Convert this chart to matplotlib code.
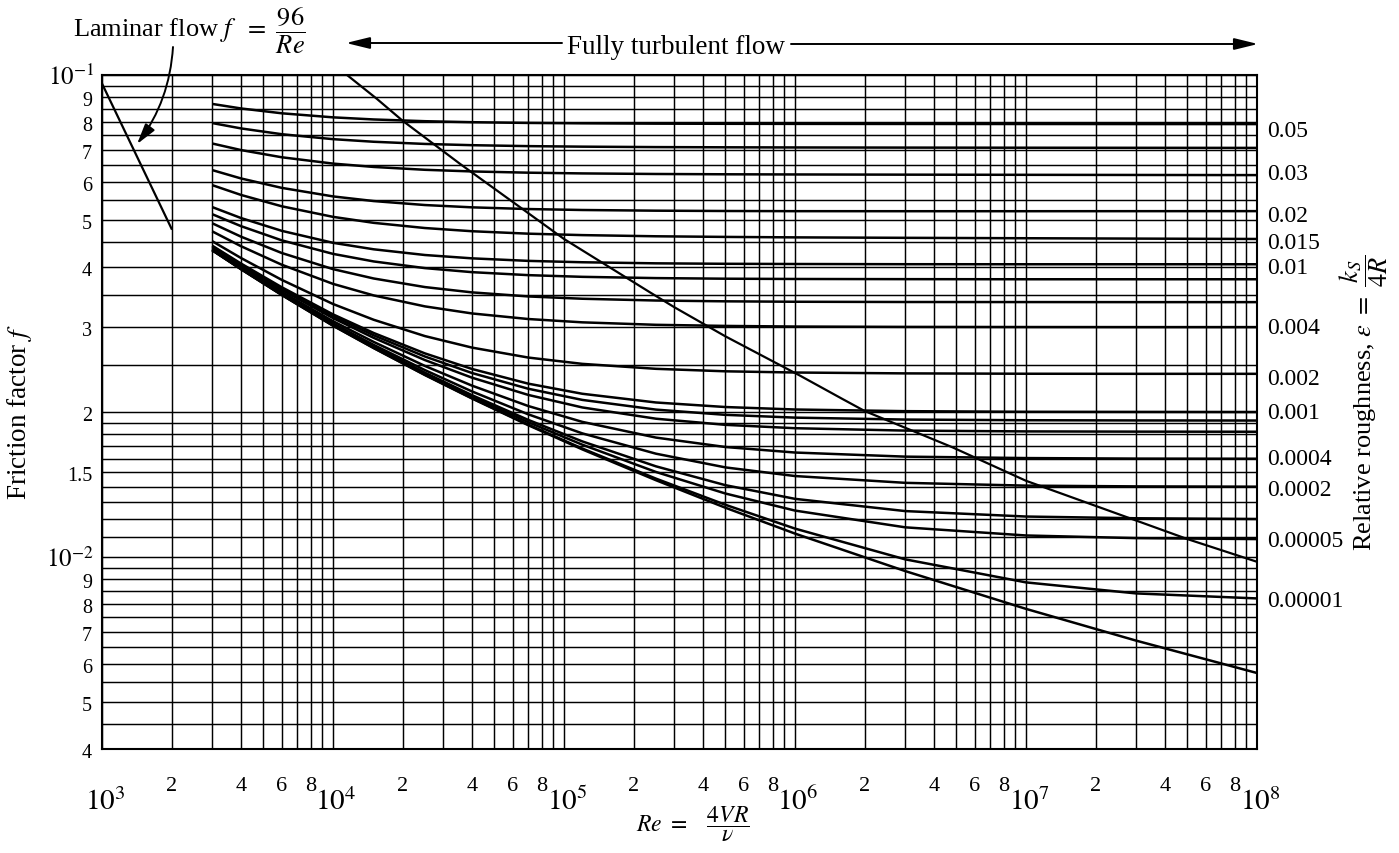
import matplotlib
matplotlib.use('Agg')
import matplotlib.pyplot as plt
import matplotlib.patches as mpatches
from matplotlib.ticker import FixedLocator, NullLocator

plt.rcParams['font.family'] = ['Liberation Serif', 'DejaVu Serif']
plt.rcParams['mathtext.fontset'] = 'stix'

W, H = 1399, 854

# ---------------- data ----------------
re_pts = [3e3, 4e3, 6e3, 1e4, 1.5e4, 2.5e4, 4e4, 7e4, 1.2e5, 2.5e5, 5e5, 1e6, 3e6, 1e7, 3e7, 1e8]

f_0_05 = [0.0871, 0.08523, 0.08329, 0.08169, 0.08087, 0.0802, 0.07982, 0.07954, 0.07939, 0.07927, 0.07921, 0.07918, 0.07915, 0.07913, 0.07911, 0.0791]
f_0_04 = [0.0795, 0.07748, 0.07537, 0.07361, 0.0727, 0.07195, 0.07152, 0.0712, 0.07102, 0.07087, 0.0708, 0.07075, 0.0707, 0.07066, 0.07063, 0.0706]
f_0_03 = [0.0721, 0.06987, 0.06751, 0.0655, 0.06446, 0.06359, 0.06309, 0.06272, 0.0625, 0.06233, 0.06224, 0.06219, 0.06213, 0.06208, 0.06204, 0.062]
f_0_02 = [0.0635, 0.06101, 0.05833, 0.056, 0.05477, 0.05374, 0.05315, 0.05272, 0.05248, 0.05231, 0.05223, 0.05219, 0.05218, 0.05218, 0.05219, 0.0522]
f_0_015 = [0.0591, 0.05639, 0.05342, 0.05079, 0.04936, 0.04815, 0.04742, 0.04687, 0.04655, 0.04629, 0.04615, 0.04605, 0.04595, 0.04586, 0.04578, 0.0457]
f_0_01 = [0.05322, 0.0505, 0.04751, 0.04487, 0.0435, 0.04233, 0.04166, 0.04116, 0.04089, 0.04068, 0.04059, 0.04055, 0.04051, 0.0405, 0.0405, 0.0405]
f_0_008 = [0.05144, 0.04858, 0.0454, 0.04256, 0.04105, 0.03976, 0.039, 0.03845, 0.03814, 0.03791, 0.0378, 0.03775, 0.03772, 0.0377, 0.0377, 0.0377]
f_0_006 = [0.04926, 0.0462, 0.04274, 0.03957, 0.03784, 0.03632, 0.03541, 0.03473, 0.03435, 0.03406, 0.03393, 0.03386, 0.03382, 0.03381, 0.0338, 0.0338]
f_0_004 = [0.04739, 0.04414, 0.04041, 0.03688, 0.0349, 0.03312, 0.03202, 0.03118, 0.03069, 0.03033, 0.03017, 0.03008, 0.03003, 0.03001, 0.03, 0.03]
f_0_002 = [0.04522, 0.04172, 0.03759, 0.0335, 0.03107, 0.02874, 0.0272, 0.02594, 0.02517, 0.02458, 0.02429, 0.02415, 0.02405, 0.02401, 0.024, 0.024]
f_0_001 = [0.04426, 0.04063, 0.03629, 0.03188, 0.02917, 0.02646, 0.02456, 0.0229, 0.02182, 0.02093, 0.02048, 0.02024, 0.02008, 0.02002, 0.02001, 0.02]
f_0_0008 = [0.0441, 0.04045, 0.03607, 0.03161, 0.02885, 0.02607, 0.02409, 0.02235, 0.02119, 0.02023, 0.01973, 0.01947, 0.01929, 0.01923, 0.01921, 0.0192]
f_0_0006 = [0.04392, 0.04025, 0.03584, 0.03132, 0.0285, 0.02563, 0.02356, 0.0217, 0.02044, 0.01937, 0.01881, 0.01851, 0.0183, 0.01823, 0.01821, 0.0182]
f_0_0004 = [0.04367, 0.03997, 0.03549, 0.03086, 0.02795, 0.02492, 0.02268, 0.02058, 0.01908, 0.0177, 0.01692, 0.01648, 0.01616, 0.01605, 0.01601, 0.016]
f_0_0002 = [0.04349, 0.03977, 0.03525, 0.03055, 0.02756, 0.02443, 0.02206, 0.01978, 0.01806, 0.01639, 0.01535, 0.01473, 0.01426, 0.01407, 0.01402, 0.014]
f_0_0001 = [0.04339, 0.03965, 0.0351, 0.03037, 0.02734, 0.02413, 0.02167, 0.01926, 0.01738, 0.01543, 0.0141, 0.01321, 0.01246, 0.01214, 0.01204, 0.012]
f_0_00005 = [0.04335, 0.0396, 0.03505, 0.03029, 0.02725, 0.02401, 0.02152, 0.01905, 0.01711, 0.01502, 0.01355, 0.01249, 0.01153, 0.01109, 0.01095, 0.0109]
f_0_00001 = [0.04331, 0.03956, 0.03499, 0.03022, 0.02716, 0.02389, 0.02136, 0.01883, 0.0168, 0.01455, 0.01284, 0.01146, 0.009895, 0.008864, 0.008409, 0.00821]
f_smooth = [0.0433, 0.03955, 0.03498, 0.0302, 0.02714, 0.02386, 0.02133, 0.01878, 0.01673, 0.01444, 0.01266, 0.01119, 0.009356, 0.007811, 0.006711, 0.00575]

laminar_re = [1000, 2000]
laminar_f = [0.096, 0.048]

boundary_re = [1.15e4, 1.55e4, 2.0e4, 3.55e4, 1.0e5, 2.36e5, 3.0e5, 5.0e5, 1.05e6, 1.6e6, 2.0e6, 4.8e6, 1.0e7, 2.3e7, 5.0e7, 1.0e8]
boundary_f = [0.100, 0.0892, 0.0804, 0.0654, 0.0457, 0.0354, 0.0330, 0.0287, 0.0238, 0.0213, 0.0201, 0.0169, 0.0144, 0.01247, 0.0109, 0.00978]

roughness_labels = ['0.05', '0.03', '0.02', '0.015', '0.01', '0.004', '0.002', '0.001',
                    '0.0004', '0.0002', '0.00005', '0.00001']
roughness_label_f = [0.0776, 0.0631, 0.0517, 0.0455, 0.0403, 0.0303, 0.0238, 0.0202,
                     0.01622, 0.0140, 0.01095, 0.00822]

x_major_ticks = [1e3, 1e4, 1e5, 1e6, 1e7, 1e8]
x_major_text = [r'$10^{3}$', r'$10^{4}$', r'$10^{5}$', r'$10^{6}$', r'$10^{7}$', r'$10^{8}$']
x_minor_mult = [2, 4, 6, 8]
x_minor_decades = [1e3, 1e4, 1e5, 1e6, 1e7]

y_major_ticks = [0.1, 0.01]
y_major_text = [r'$10^{-1}$', r'$10^{-2}$']
y_minor_ticks = [0.09, 0.08, 0.07, 0.06, 0.05, 0.04, 0.03, 0.02, 0.015,
                 0.009, 0.008, 0.007, 0.006, 0.005, 0.004]
y_minor_text = ['9', '8', '7', '6', '5', '4', '3', '2', '1.5',
                '9', '8', '7', '6', '5', '4']

x_grid = [m * d for d in [1e3, 1e4, 1e5, 1e6, 1e7] for m in range(1, 10)] + [1e8]
y_grid = ([0.004, 0.0045, 0.005, 0.0055, 0.006, 0.0065, 0.007, 0.0075, 0.008, 0.0085,
           0.009, 0.0095, 0.01, 0.011, 0.012, 0.013, 0.014, 0.015, 0.016, 0.017, 0.018,
           0.019, 0.02, 0.025, 0.03, 0.035, 0.04, 0.045, 0.05, 0.055, 0.06, 0.065, 0.07,
           0.075, 0.08, 0.085, 0.09, 0.095, 0.1])

curves = [f_0_05, f_0_04, f_0_03, f_0_02, f_0_015, f_0_01, f_0_008, f_0_006, f_0_004,
          f_0_002, f_0_001, f_0_0008, f_0_0006, f_0_0004, f_0_0002, f_0_0001,
          f_0_00005, f_0_00001, f_smooth]

# ---------------- figure ----------------
fig = plt.figure(figsize=(W / 100, H / 100), dpi=100)
ax = fig.add_axes([102 / W, 1 - 750 / H, 1155 / W, 674 / H])
ax.set_xscale('log')
ax.set_yscale('log')
ax.set_xlim(1e3, 1e8)
ax.set_ylim(0.004, 0.1)

ax.xaxis.set_major_locator(FixedLocator(x_grid))
ax.xaxis.set_minor_locator(NullLocator())
ax.yaxis.set_major_locator(FixedLocator(y_grid))
ax.yaxis.set_minor_locator(NullLocator())
ax.tick_params(which='both', length=0, labelbottom=False, labelleft=False)
ax.grid(True, which='major', color='black', lw=1.05)
for s in ax.spines.values():
    s.set_linewidth(1.5)

for fv in curves:
    ax.plot(re_pts, fv, color='black', lw=1.8, solid_capstyle='butt')
ax.plot(laminar_re, laminar_f, color='black', lw=1.6)
ax.plot(boundary_re, boundary_f, color='black', lw=1.6)

# x tick labels
for xv, t in zip(x_major_ticks, x_major_text):
    ax.annotate(t, xy=(xv, 0), xycoords=('data', 'axes fraction'), xytext=(3, -60),
                textcoords='offset pixels', ha='center', va='baseline', fontsize=21)
for d in x_minor_decades:
    for m in x_minor_mult:
        ax.annotate(str(m), xy=(m * d, 0), xycoords=('data', 'axes fraction'),
                    xytext=(0, -41), textcoords='offset pixels', ha='center',
                    va='baseline', fontsize=16)

# y tick labels
for yv, t in zip(y_major_ticks, y_major_text):
    ax.annotate(t, xy=(0, yv), xycoords=('axes fraction', 'data'), xytext=(-8, -9),
                textcoords='offset pixels', ha='right', va='baseline', fontsize=18)
for yv, t in zip(y_minor_ticks, y_minor_text):
    ax.annotate(t, xy=(0, yv), xycoords=('axes fraction', 'data'), xytext=(-10, -8),
                textcoords='offset pixels', ha='right', va='baseline', fontsize=14.5)

# roughness labels on the right
for t, yv in zip(roughness_labels, roughness_label_f):
    ax.annotate(t, xy=(1, yv), xycoords=('axes fraction', 'data'), xytext=(10, -8),
                textcoords='offset pixels', ha='left', va='baseline', fontsize=17)

# axis titles
fig.text(20 / W, 1 - 412 / H, r'Friction factor $f$', rotation=90, ha='center',
         va='center', fontsize=19.5)
fig.text(1364 / W, 1 - 403 / H, r'Relative roughness, $\epsilon\ =\ \dfrac{k_S}{4R}$',
         rotation=90, ha='center', va='center', fontsize=19)
fig.text(636 / W, 1 - 832 / H, r'$Re\ =\ \ \ \dfrac{4VR}{\nu}$', ha='left',
         va='baseline', fontsize=17)

# top annotations
fig.text(73 / W, 1 - 38 / H, r'Laminar flow $f\ \ =\ \dfrac{96}{Re}$', ha='left',
         va='baseline', fontsize=19)
ax.annotate('', xy=(1418, 0.0719), xycoords='data',
            xytext=(173 / W, 1 - 48 / H), textcoords='figure fraction',
            arrowprops=dict(arrowstyle='-|>,head_length=0.9,head_width=0.25',
                            connectionstyle='arc3,rad=-0.15', color='black',
                            lw=1.4, mutation_scale=14, shrinkA=0, shrinkB=0))
fig.text(676 / W, 1 - 47 / H, 'Fully turbulent flow', ha='center', va='center',
         fontsize=19.5)
for x0, x1, yy in [(562, 346, 44), (791, 1258, 45)]:
    fig.add_artist(mpatches.FancyArrowPatch(
        (x0 / W, 1 - yy / H), (x1 / W, 1 - yy / H), transform=fig.transFigure,
        arrowstyle='-|>,head_length=0.9,head_width=0.22', mutation_scale=16,
        color='black', lw=1.4, shrinkA=0, shrinkB=0))

fig.savefig('out.png', dpi=100)
